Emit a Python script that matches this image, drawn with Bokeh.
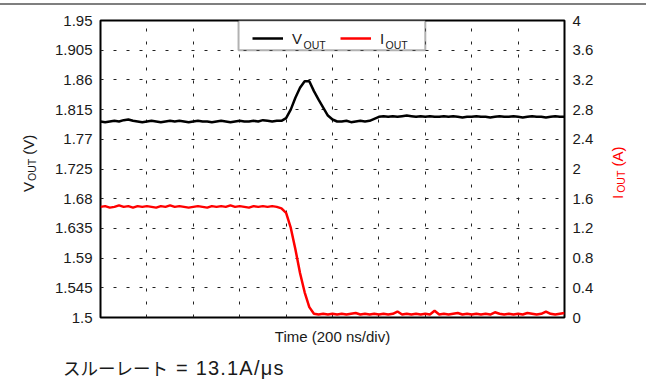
from bokeh.plotting import figure
from bokeh.models import (Range1d, LinearAxis, FixedTicker, Legend, LegendItem,
                          Label, Div, ColumnDataSource, BoxAnnotation)
from bokeh.layouts import column, row
from bokeh.embed import file_html
from bokeh.resources import INLINE

# ---------------- data ----------------
time_ns = [0, 20, 40, 60, 80, 100, 120, 140, 160, 180,
           200, 220, 240, 260, 280, 300, 320, 340, 360, 380,
           400, 420, 440, 460, 480, 500, 520, 540, 560, 580,
           600, 620, 640, 660, 680, 700, 720, 740, 760, 780,
           800, 820, 840, 860, 880, 900, 920, 940, 960, 980,
           1000, 1020, 1040, 1060, 1080, 1100, 1120, 1140, 1160, 1180,
           1200, 1220, 1240, 1260, 1280, 1300, 1320, 1340, 1360, 1380,
           1400, 1420, 1440, 1460, 1480, 1500, 1520, 1540, 1560, 1580,
           1600, 1620, 1640, 1660, 1680, 1700, 1720, 1740, 1760, 1780,
           1800, 1820, 1840, 1860, 1880, 1900, 1920, 1940, 1960, 1980,
           2000]

vout = [1.797, 1.796, 1.797, 1.798, 1.797, 1.799, 1.800, 1.798, 1.797, 1.796,
        1.797, 1.798, 1.797, 1.796, 1.797, 1.798, 1.797, 1.798, 1.797, 1.796,
        1.797, 1.798, 1.797, 1.797, 1.796, 1.797, 1.798, 1.797, 1.796, 1.797,
        1.798, 1.797, 1.797, 1.798, 1.797, 1.799, 1.798, 1.797, 1.798, 1.798,
        1.802, 1.815, 1.833, 1.848, 1.858, 1.858, 1.843, 1.830, 1.818, 1.806,
        1.800, 1.797, 1.797, 1.798, 1.796, 1.797, 1.798, 1.797, 1.798, 1.801,
        1.804, 1.805, 1.804, 1.805, 1.804, 1.805, 1.806, 1.805, 1.804, 1.805,
        1.804, 1.805, 1.804, 1.804, 1.805, 1.804, 1.805, 1.804, 1.803, 1.804,
        1.804, 1.805, 1.804, 1.804, 1.803, 1.804, 1.805, 1.804, 1.804, 1.805,
        1.804, 1.803, 1.804, 1.805, 1.804, 1.804, 1.803, 1.804, 1.805, 1.804,
        1.804]

iout = [1.49, 1.50, 1.48, 1.49, 1.51, 1.49, 1.50, 1.48, 1.50, 1.49,
        1.50, 1.49, 1.48, 1.50, 1.49, 1.51, 1.49, 1.50, 1.49, 1.48,
        1.49, 1.50, 1.49, 1.48, 1.50, 1.49, 1.50, 1.49, 1.51, 1.49,
        1.50, 1.49, 1.48, 1.50, 1.49, 1.50, 1.49, 1.50, 1.49, 1.47,
        1.41, 1.21, 0.92, 0.60, 0.34, 0.14, 0.05, 0.04, 0.05, 0.04,
        0.05, 0.04, 0.05, 0.04, 0.05, 0.06, 0.04, 0.05, 0.04, 0.05,
        0.04, 0.05, 0.04, 0.05, 0.08, 0.04, 0.05, 0.04, 0.05, 0.04,
        0.05, 0.04, 0.09, 0.04, 0.05, 0.04, 0.05, 0.06, 0.04, 0.05,
        0.04, 0.05, 0.04, 0.05, 0.04, 0.07, 0.05, 0.04, 0.05, 0.04,
        0.05, 0.04, 0.06, 0.05, 0.04, 0.05, 0.08, 0.05, 0.04, 0.05,
        0.06]

x_ticks = [0, 200, 400, 600, 800, 1000, 1200, 1400, 1600, 1800, 2000]
v_ticks = [1.5, 1.545, 1.59, 1.635, 1.68, 1.725, 1.77, 1.815, 1.86, 1.905, 1.95]
v_tick_labels = ["1.5", "1.545", "1.59", "1.635", "1.68", "1.725", "1.77",
                 "1.815", "1.86", "1.905", "1.95"]
i_ticks = [0, 0.4, 0.8, 1.2, 1.6, 2, 2.4, 2.8, 3.2, 3.6, 4]
i_tick_labels = ["0", "0.4", "0.8", "1.2", "1.6", "2", "2.4", "2.8", "3.2", "3.6", "4"]

x_title = "Time (200 ns/div)"
note_jp = "スルーレート"
note_val = "= 13.1A/μs"

FONT = "Liberation Sans"
TXT = "#1a1a1a"
RED = "#ff0000"

FIG_H = 343

# ---------------- figure ----------------
p = figure(width=560, height=FIG_H, output_backend="svg", toolbar_location=None,
           x_range=Range1d(0, 2000), y_range=Range1d(1.5, 1.95),
           min_border_left=52, min_border_right=44, min_border_top=10,
           min_border_bottom=36)
p.background_fill_color = "white"
p.border_fill_color = "white"
p.outline_line_color = "black"
p.outline_line_width = 2
p.extra_y_ranges = {"i": Range1d(0, 4)}

src = ColumnDataSource(dict(t=time_ns, v=vout, i=iout))
rv = p.line("t", "v", source=src, line_color="black", line_width=2.5)
ri = p.line("t", "i", source=src, line_color=RED, line_width=2.5, y_range_name="i")

# x axis: no tick labels (only the dashed division grid)
xa = p.xaxis[0]
xa.ticker = FixedTicker(ticks=[])
xa.major_tick_line_color = None
xa.minor_tick_line_color = None
xa.axis_line_color = None
xa.axis_label = x_title
xa.axis_label_text_font = FONT
xa.axis_label_text_font_size = "15px"
xa.axis_label_text_font_style = "normal"
xa.axis_label_text_color = TXT
xa.axis_label_standoff = 10

# left axis
ya = p.yaxis[0]
ya.ticker = FixedTicker(ticks=v_ticks)
ya.major_label_overrides = {t: s for t, s in zip(v_ticks, v_tick_labels)}
ya.major_label_text_font = FONT
ya.major_label_text_font_size = "15px"
ya.major_label_text_color = TXT
ya.major_label_standoff = 8
ya.major_tick_line_color = None
ya.major_tick_out = 0
ya.minor_tick_line_color = None
ya.axis_line_color = None

# right axis
ra = LinearAxis(y_range_name="i", ticker=FixedTicker(ticks=i_ticks))
ra.major_label_overrides = {t: s for t, s in zip(i_ticks, i_tick_labels)}
ra.major_label_text_font = FONT
ra.major_label_text_font_size = "15px"
ra.major_label_text_color = TXT
ra.major_label_standoff = 8
ra.major_tick_line_color = None
ra.major_tick_out = 0
ra.minor_tick_line_color = None
ra.axis_line_color = None
p.add_layout(ra, "right")

# grids
for g in (p.xgrid[0], p.ygrid[0]):
    g.grid_line_color = "#222222"
    g.grid_line_width = 1
    g.grid_line_dash = "3 10"
p.ygrid[0].ticker = FixedTicker(ticks=v_ticks)
p.xgrid[0].ticker = FixedTicker(ticks=x_ticks)

# legend frame (white box with black border, top-centre of the plot)
p.add_layout(BoxAnnotation(left=595, right=1400, bottom=1.905, top=1.95,
                           fill_color="white", fill_alpha=1,
                           line_color="black", line_width=2))

legend = Legend(items=[LegendItem(label="V", renderers=[rv]),
                       LegendItem(label="I", renderers=[ri])],
                orientation="horizontal", location=(152, 270),
                padding=0, spacing=10, margin=0,
                glyph_width=31, glyph_height=18, label_height=18,
                label_width=38, label_standoff=9,
                label_text_font=FONT, label_text_font_size="15px",
                label_text_color=TXT,
                border_line_color=None, background_fill_alpha=0)
p.add_layout(legend, "center")

for sx in (203, 285):
    p.add_layout(Label(text="OUT", x=sx, y=272.5, x_units="screen", y_units="screen",
                       text_font=FONT, text_font_size="10.5px", text_color=TXT,
                       text_align="left", text_baseline="alphabetic",
                       level="overlay"))

# ---------------- texts outside the plot frame ----------------
def vtitle(main, sub, tail, color, pad_left, pad_top, width, gap):
    html = (
        f'<div style="width:{FIG_H}px;height:{width}px;box-sizing:border-box;'
        f'transform-origin:0 0;transform:translate(0px,{FIG_H}px) rotate(-90deg);'
        f"font-family:'{FONT}';font-size:15px;line-height:15px;color:{color};"
        f'white-space:nowrap;padding-left:{pad_left}px;padding-top:{pad_top}px;">'
        f'{main}<span style="font-size:10.5px;line-height:10px;vertical-align:-2px;'
        f'margin-left:{gap}px">{sub}</span> {tail}</div>'
    )
    return Div(text=html, width=width, height=FIG_H, margin=0)

left_title = vtitle("V", "OUT", "(V)", TXT, 161, 21, 48, 1)
right_title = vtitle("I", "OUT", "(A)", RED, 154, 2, 45, 2)

foot_html = (
    f"<div style=\"padding-left:63px;padding-top:5px;line-height:20px;"
    f"font-family:'{FONT}';font-size:20px;color:{TXT};white-space:nowrap\">"
    f"<span style=\"font-family:'Noto Sans CJK JP';font-size:17.5px\">{note_jp}</span>"
    f"<span style=\"margin-left:8px;letter-spacing:1.2px\">{note_val}</span></div>"
)
foot = Div(text=foot_html, width=653, height=32, margin=0)

top_rule = Div(text='<div style="margin-top:3px;border-top:2px solid #7f7f7f;'
                    'height:22px;width:646px;font-size:0;line-height:0"></div>',
               width=653, height=10, margin=0)

layout = column(top_rule, row(left_title, p, right_title, spacing=0), foot, spacing=0)

open("out.html", "w").write(file_html(layout, INLINE))
